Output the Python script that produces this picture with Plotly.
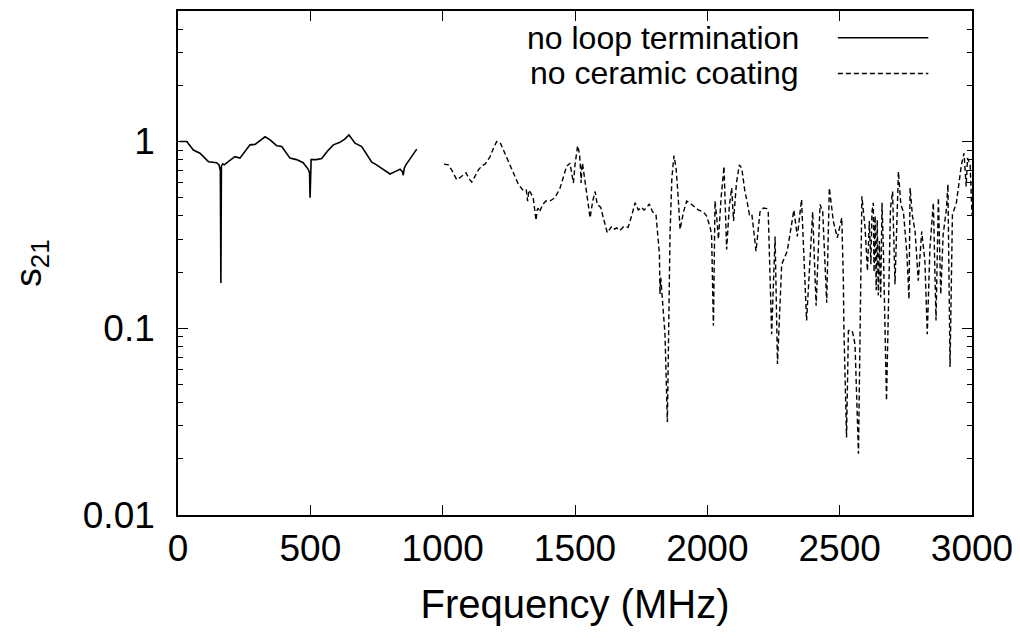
import math
import plotly.graph_objects as go

# ---------------- data ----------------
series_names = ["no loop termination", "no ceramic coating"]

freq_loop = [5, 33, 58, 83, 115, 146, 155, 160, 162, 164, 169, 175, 190, 215, 234,
             253, 272, 291, 310, 329, 348, 373, 392, 410, 423, 448, 473, 492, 497,
             499, 501, 503, 522, 543, 565, 587, 612, 630, 646, 669, 694, 713, 732,
             750, 770, 801, 820, 839, 848, 851, 855, 861, 880, 902]
s21_loop = [1.0, 1.0, 0.90, 0.866, 0.78, 0.77, 0.75, 0.70, 0.175, 0.74, 0.76, 0.75,
            0.78, 0.83, 0.815, 0.88, 0.96, 0.965, 1.01, 1.06, 1.02, 0.95, 0.94, 0.87,
            0.815, 0.80, 0.77, 0.71, 0.68, 0.50, 0.70, 0.80, 0.80, 0.81, 0.89, 0.96,
            0.99, 1.03, 1.085, 0.98, 0.94, 0.86, 0.775, 0.75, 0.72, 0.67, 0.69, 0.71,
            0.69, 0.66, 0.72, 0.75, 0.82, 0.91]

freq_ceramic = [1005, 1021, 1035, 1053, 1065, 1075, 1088, 1100, 1110, 1122, 1135, 1148,
                1160, 1170, 1179, 1192, 1204, 1217, 1230, 1242, 1255, 1267, 1286, 1305,
                1316, 1321, 1326, 1333, 1342, 1353, 1357, 1361, 1366, 1378, 1390, 1405,
                1424, 1443, 1455, 1468, 1481, 1494, 1500, 1506, 1510, 1514, 1518, 1521,
                1523, 1526, 1528, 1531, 1538, 1545, 1557, 1567, 1576, 1584, 1597, 1607,
                1622, 1639, 1650, 1657, 1670, 1683, 1701, 1714, 1727, 1739, 1752, 1760,
                1770, 1781, 1793, 1806, 1812, 1819, 1821, 1824, 1840, 1849, 1859, 1866,
                1874, 1882, 1890, 1897, 1910, 1922, 1941, 1966, 1985, 1997, 2010, 2016,
                2023, 2029, 2035, 2042, 2052, 2063, 2073, 2083, 2092, 2099, 2110, 2121,
                2130, 2142, 2150, 2159, 2168, 2184, 2199, 2212, 2224, 2230, 2243, 2250,
                2256, 2265, 2281, 2302, 2315, 2327, 2340, 2356, 2375, 2398, 2411, 2426,
                2436, 2451, 2461, 2476, 2491, 2508, 2514, 2516, 2526, 2533, 2541, 2549,
                2558, 2571, 2584, 2596, 2605, 2612, 2618, 2622, 2627, 2630, 2634, 2638,
                2642, 2646, 2650, 2655, 2660, 2665, 2677, 2692, 2700, 2709, 2722, 2731,
                2741, 2754, 2762, 2766, 2775, 2785, 2797, 2810, 2822, 2831, 2841, 2854,
                2864, 2873, 2882, 2891, 2903, 2909, 2917, 2926, 2941, 2950, 2960, 2970,
                2978, 2983, 2993, 3000]
s21_ceramic = [0.757, 0.75, 0.70, 0.625, 0.64, 0.66, 0.68, 0.63, 0.607, 0.65, 0.705, 0.74,
               0.757, 0.79, 0.83, 0.92, 1.0, 0.99, 0.90, 0.815, 0.75, 0.69, 0.59, 0.545,
               0.55, 0.48, 0.55, 0.53, 0.50, 0.378, 0.43, 0.44, 0.42, 0.46, 0.48, 0.48,
               0.50, 0.56, 0.64, 0.735, 0.766, 0.60, 0.75, 0.885, 0.95, 0.90, 0.83, 0.70,
               0.60, 0.72, 0.766, 0.72, 0.61, 0.50, 0.39, 0.48, 0.54, 0.46, 0.445, 0.39,
               0.325, 0.352, 0.34, 0.345, 0.334, 0.35, 0.348, 0.40, 0.47, 0.43, 0.445, 0.43,
               0.44, 0.463, 0.42, 0.406, 0.33, 0.25, 0.152, 0.187, 0.093, 0.0315, 0.318, 0.64,
               0.84, 0.72, 0.50, 0.338, 0.42, 0.48, 0.46, 0.43, 0.42, 0.40, 0.35, 0.318,
               0.103, 0.48, 0.40, 0.30, 0.50, 0.735, 0.264, 0.45, 0.564, 0.375, 0.60, 0.75,
               0.72, 0.54, 0.48, 0.406, 0.41, 0.259, 0.42, 0.44, 0.437, 0.42, 0.093, 0.20,
               0.31, 0.0644, 0.22, 0.259, 0.34, 0.43, 0.31, 0.49, 0.11, 0.42, 0.132, 0.46,
               0.42, 0.137, 0.564, 0.375, 0.305, 0.39, 0.18, 0.10, 0.026, 0.097, 0.098, 0.095,
               0.082, 0.0213, 0.509, 0.345, 0.203, 0.375, 0.22, 0.42, 0.47, 0.20, 0.40, 0.16,
               0.38, 0.15, 0.293, 0.146, 0.47, 0.27, 0.041, 0.44, 0.54, 0.172, 0.69, 0.46,
               0.42, 0.25, 0.143, 0.564, 0.40, 0.33, 0.18, 0.33, 0.229, 0.093, 0.27, 0.47,
               0.11, 0.50, 0.152, 0.318, 0.43, 0.59, 0.062, 0.406, 0.47, 0.60, 0.75, 0.866,
               0.575, 0.815, 0.75, 0.406]

x_tick_vals = [0, 500, 1000, 1500, 2000, 2500, 3000]
y_tick_vals = [0.01, 0.1, 1]
y_tick_text = ["0.01", "0.1", "1"]
x_title = "Frequency (MHz)"
y_title = "s<sub>21</sub>"

# ---------------- styling ----------------
FONT = "Liberation Sans, Arial, Helvetica, sans-serif"
FS = 37
FS_TITLE = 40
FS_KEY = 32
dash_styles = ["solid", "5px,3px"]

y_minor = [k * 10 ** e for e in (-2, -1, 0) for k in range(2, 10) if k * 10 ** e <= 5]

fig = go.Figure()
fig.add_trace(go.Scatter(x=freq_loop, y=s21_loop, mode="lines", name=series_names[0],
                         line=dict(color="black", width=1.6, dash=dash_styles[0]),
                         showlegend=False))
fig.add_trace(go.Scatter(x=freq_ceramic, y=s21_ceramic, mode="lines", name=series_names[1],
                         line=dict(color="black", width=1.4, dash=dash_styles[1]),
                         showlegend=False))

# gnuplot-style key: text right-aligned, sample line to the right
key_rows = [0.947, 0.876]
for name, dash, yy in zip(series_names, dash_styles, key_rows):
    fig.add_annotation(x=0.783, y=yy, xref="paper", yref="paper", text=name,
                       showarrow=False, xanchor="right", yanchor="middle", borderpad=0,
                       font=dict(family=FONT, size=FS_KEY, color="black"))
    fig.add_shape(type="line", xref="paper", yref="paper", x0=0.831, x1=0.945,
                  y0=yy, y1=yy, line=dict(color="black", width=1.4, dash=dash))

# page body has an 8px margin, so the figure is sized/offset to compensate
fig.update_layout(
    width=1012, height=630,
    margin=dict(l=170, r=48, t=1, b=123),
    paper_bgcolor="white", plot_bgcolor="white",
    font=dict(family=FONT, size=FS, color="black"),
    showlegend=False,
)
fig.update_xaxes(
    range=[0, 3000], tickmode="array", tickvals=x_tick_vals,
    ticks="inside", ticklen=10, tickwidth=1.2, tickcolor="black",
    showline=True, linecolor="black", linewidth=1.6, mirror="allticks",
    showgrid=False, zeroline=False, ticklabelstandoff=0,
    title=dict(text=x_title, standoff=22, font=dict(family=FONT, size=FS_TITLE)),
)
fig.update_yaxes(
    type="log", range=[-2, math.log10(5)], tickmode="array",
    tickvals=y_tick_vals, ticktext=y_tick_text,
    ticks="inside", ticklen=10, tickwidth=1.2, tickcolor="black",
    minor=dict(tickmode="array", tickvals=y_minor, ticks="inside", ticklen=5,
               tickwidth=1.2, tickcolor="black", showgrid=False),
    showline=True, linecolor="black", linewidth=1.6, mirror="allticks",
    showgrid=False, zeroline=False, ticklabelstandoff=14,
    title=dict(text=y_title, standoff=44, font=dict(family=FONT, size=FS)),
)

fig.write_html("out.html")
